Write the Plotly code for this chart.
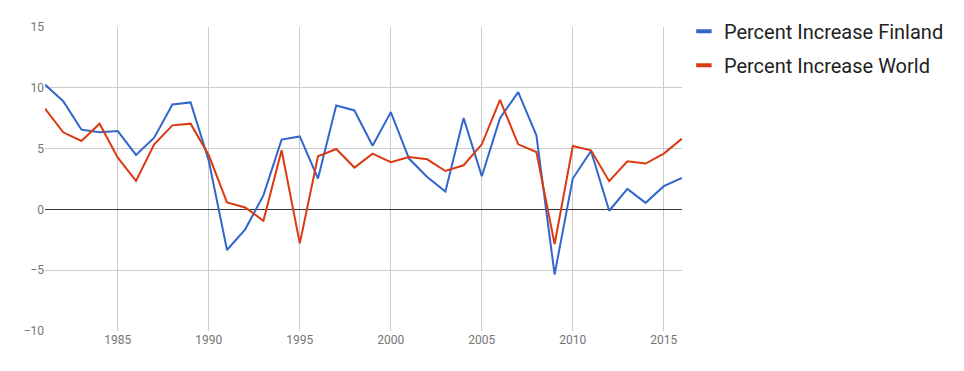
import plotly.graph_objects as go

years = list(range(1981, 2017))
finland = [10.27, 8.9, 6.56, 6.34, 6.44, 4.48, 5.9, 8.63, 8.8, 4.0,
           -3.34, -1.64, 1.15, 5.74, 6.0, 2.54, 8.55, 8.14, 5.24, 8.0,
           4.18, 2.67, 1.47, 7.51, 2.73, 7.51, 9.64, 6.09, -5.35, 2.54,
           4.8, -0.11, 1.69, 0.54, 1.91, 2.59]
world = [8.28, 6.34, 5.63, 7.05, 4.26, 2.34, 5.35, 6.91, 7.05, 4.45,
         0.57, 0.16, -0.93, 4.86, -2.79, 4.37, 4.97, 3.44, 4.59, 3.88,
         4.31, 4.12, 3.16, 3.63, 5.35, 9.0, 5.35, 4.72, -2.85, 5.21,
         4.86, 2.32, 3.96, 3.77, 4.59, 5.82]
names = ["Percent Increase Finland", "Percent Increase World"]
colors = ["#3366cc", "#dc3912"]
x_ticks = [1985, 1990, 1995, 2000, 2005, 2010, 2015]
y_ticks = [-10, -5, 0, 5, 10, 15]

fig = go.Figure()
for vals, name, col in zip([finland, world], names, colors):
    fig.add_trace(go.Scatter(x=years, y=vals, mode="lines", name=name,
                             line=dict(color=col, width=2), showlegend=False))
    fig.add_trace(go.Scatter(x=[None], y=[None], mode="markers", name=name,
                             legendgroup=name,
                             marker=dict(symbol="line-ew", size=11,
                                         line=dict(color=col, width=4))))

fig.update_layout(
    width=964, height=371,
    margin=dict(l=37, r=290, t=19, b=48, autoexpand=False),
    paper_bgcolor="white", plot_bgcolor="white",
    font=dict(family="Roboto", color="#757575", size=12),
    legend=dict(x=1.003, xanchor="left", xref="paper",
                y=0.99, yanchor="top", yref="container",
                font=dict(size=20, color="#222222", family="Roboto"),
                tracegroupgap=5, itemwidth=30, bgcolor="rgba(0,0,0,0)"),
)
fig.update_xaxes(range=[1981, 2016], tickvals=x_ticks, showgrid=True,
                 gridcolor="#cccccc", zeroline=False, showline=False,
                 ticks="", automargin=False,
                 tickfont=dict(size=12, color="#757575"))
fig.update_yaxes(range=[-10, 15], tickvals=y_ticks, showgrid=True,
                 gridcolor="#cccccc", zeroline=True, zerolinecolor="#333333",
                 zerolinewidth=1, showline=False, ticks="", automargin=False,
                 tickfont=dict(size=12, color="#757575"))

fig.write_html("out.html")
